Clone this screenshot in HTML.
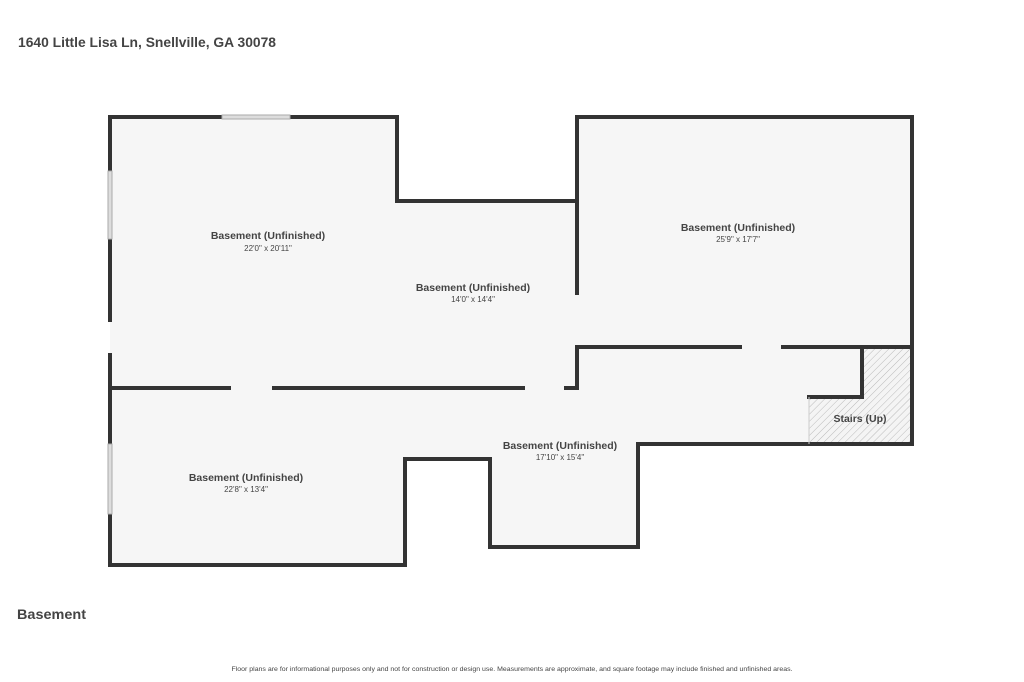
<!DOCTYPE html>
<html><head><meta charset="utf-8"><style>
html,body{margin:0;padding:0;background:#fff;width:1024px;height:682px;overflow:hidden}
svg{display:block}
text{font-family:"Liberation Sans",sans-serif;fill:#444}
</style></head><body>
<svg width="1024" height="682" viewBox="0 0 1024 682" xmlns="http://www.w3.org/2000/svg">
<defs>
<pattern id="h" width="5" height="5" patternUnits="userSpaceOnUse" patternTransform="rotate(45)">
<rect width="5" height="5" fill="#f4f4f4"/><line x1="0" y1="0" x2="0" y2="5" stroke="#bbb" stroke-width="1"/>
</pattern>
</defs>
<text x="18" y="47" font-size="14" font-weight="bold" fill="#444" textLength="258" lengthAdjust="spacingAndGlyphs">1640 Little Lisa Ln, Snellville, GA 30078</text>
<polygon points="110,117 397,117 397,201 577,201 577,117 912,117 912,444 638,444 638,547 490,547 490,459 405,459 405,565 110,565" fill="#f6f6f6"/>
<polygon points="862,347 912,347 912,444 809,444 809,397 862,397" fill="url(#h)"/>
<g stroke="#333" stroke-width="4" fill="none" stroke-linecap="square" stroke-linejoin="miter">
<polyline points="221,117 110,117 110,170"/>
<polyline points="291,117 397,117 397,201 577,201"/>
<line x1="110" y1="240" x2="110" y2="320"/>
<line x1="110" y1="355" x2="110" y2="443"/>
<polyline points="110,515 110,565 405,565 405,459 490,459 490,547 638,547 638,444 912,444 912,117 577,117 577,293"/>
<line x1="110" y1="388" x2="229" y2="388"/>
<line x1="274" y1="388" x2="523" y2="388"/>
<polyline points="566,388 577,388 577,347 740,347"/>
<line x1="783" y1="347" x2="912" y2="347"/>
<polyline points="862,347 862,397 809,397"/>
</g>
<g fill="#ddd" stroke="#aaa" stroke-width="1">
<rect x="222" y="115" width="68" height="4"/>
<rect x="108" y="171" width="4" height="68"/>
<rect x="108" y="444" width="4" height="70"/>
</g>
<line x1="809" y1="397" x2="809" y2="444" stroke="#ccc" stroke-width="1"/>
<g text-anchor="middle">
<text x="268" y="239" font-size="10.5" font-weight="bold">Basement (Unfinished)</text>
<text x="268" y="251" font-size="8">22'0" x 20'11"</text>
<text x="473" y="291" font-size="10.5" font-weight="bold">Basement (Unfinished)</text>
<text x="473" y="302" font-size="8">14'0" x 14'4"</text>
<text x="738" y="231" font-size="10.5" font-weight="bold">Basement (Unfinished)</text>
<text x="738" y="242" font-size="8">25'9" x 17'7"</text>
<text x="560" y="449" font-size="10.5" font-weight="bold">Basement (Unfinished)</text>
<text x="560" y="460" font-size="8">17'10" x 15'4"</text>
<text x="246" y="481" font-size="10.5" font-weight="bold">Basement (Unfinished)</text>
<text x="246" y="492" font-size="8">22'8" x 13'4"</text>
<text x="860" y="422" font-size="10.5" font-weight="bold">Stairs (Up)</text>
<text x="512" y="671" font-size="6.5" fill="#666" textLength="561" lengthAdjust="spacingAndGlyphs">Floor plans are for informational purposes only and not for construction or design use. Measurements are approximate, and square footage may include finished and unfinished areas.</text>
</g>
<text x="17" y="619" font-size="14" font-weight="bold" textLength="69" lengthAdjust="spacingAndGlyphs">Basement</text>
</svg>
</body></html>
